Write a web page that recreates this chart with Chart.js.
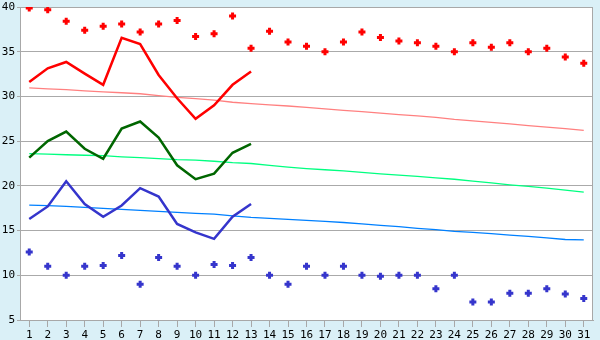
<!DOCTYPE html>
<html>
<head>
<meta charset="utf-8">
<script src="https://cdn.jsdelivr.net/npm/chart.js@4"></script>
<style>
  html, body { margin: 0; padding: 0; background: #DAF0F7; }
  canvas { display: block; }
</style>
</head>
<body>
<canvas id="chart" width="600" height="340"></canvas>
<script>
// dias del mes
const days = ['1','2','3','4','5','6','7','8','9','10','11','12','13','14','15','16',
              '17','18','19','20','21','22','23','24','25','26','27','28','29','30','31'];

// maximas y minimas registradas (puntos)
const recordMax = [39.9, 39.7, 38.4, 37.4, 37.85, 38.1, 37.2, 38.1, 38.5, 36.7, 37.0, 39.0, 35.4, 37.3, 36.1, 35.6,
                   35.0, 36.1, 37.2, 36.6, 36.2, 36.0, 35.6, 35.0, 36.0, 35.5, 36.0, 35.0, 35.4, 34.4, 33.7];
const recordMin = [12.6, 11.0, 10.0, 11.0, 11.1, 12.2, 9.0, 12.0, 11.0, 10.0, 11.2, 11.1, 12.0, 10.0, 9.0, 11.0,
                   10.0, 11.0, 10.0, 9.9, 10.0, 10.0, 8.5, 10.0, 7.0, 7.0, 8.0, 8.0, 8.5, 7.9, 7.4];

// valores del mes actual (solo 13 dias)
const curMax = [31.6, 33.15, 33.85, 32.55, 31.3, 36.55, 35.85, 32.4, 29.8, 27.5, 29.0, 31.3, 32.8];
const curMean = [23.15, 25.0, 26.07, 24.15, 23.03, 26.4, 27.2, 25.4, 22.3, 20.74, 21.37, 23.7, 24.7];
const curMin = [16.3, 17.7, 20.52, 17.97, 16.55, 17.8, 19.74, 18.8, 15.74, 14.8, 14.07, 16.55, 17.97];

// normales
const normMax = [30.96, 30.85, 30.75, 30.63, 30.52, 30.41, 30.3, 30.1, 29.9, 29.75, 29.58, 29.35, 29.2, 29.05, 28.93, 28.78,
                 28.6, 28.45, 28.3, 28.13, 27.96, 27.82, 27.65, 27.43, 27.27, 27.1, 26.94, 26.74, 26.57, 26.41, 26.2];
const normMean = [23.6, 23.55, 23.48, 23.42, 23.37, 23.25, 23.15, 23.05, 22.93, 22.87, 22.75, 22.6, 22.5, 22.3, 22.1, 21.93,
                  21.8, 21.67, 21.5, 21.35, 21.19, 21.05, 20.9, 20.74, 20.52, 20.33, 20.12, 19.95, 19.75, 19.52, 19.3];
const normMin = [17.85, 17.78, 17.7, 17.6, 17.48, 17.37, 17.26, 17.15, 17.03, 16.93, 16.83, 16.65, 16.47, 16.37, 16.26, 16.15,
                 16.03, 15.9, 15.75, 15.58, 15.43, 15.25, 15.1, 14.92, 14.8, 14.65, 14.5, 14.35, 14.18, 14.0, 13.96];

// fondo celeste afuera, blanco dentro y borde gris
const fondoPlugin = {
    id: 'fondo',
    beforeDraw(chart) {
        const { ctx, chartArea: a } = chart;
        ctx.save();
        ctx.fillStyle = '#DAF0F7';
        ctx.fillRect(0, 0, chart.width, chart.height);
        ctx.fillStyle = '#FFFFFF';
        ctx.fillRect(a.left, a.top, a.right - a.left, a.bottom - a.top);
        ctx.restore();
    },
    beforeDatasetsDraw(chart) {
        const { ctx, chartArea: a } = chart;
        ctx.save();
        ctx.strokeStyle = '#A8A8A8';
        ctx.lineWidth = 1;
        ctx.strokeRect(a.left + 0.5, a.top + 0.5, a.right - a.left - 1, a.bottom - a.top);
        ctx.restore();
    }
};

function puntos(data, color, order) {
    return {
        data: data, showLine: false, order: order,
        pointStyle: 'cross', pointRadius: 3.5, pointBorderWidth: 3,
        pointBorderColor: color, pointBackgroundColor: color
    };
}
function linea(data, color, width, order) {
    return {
        data: data, borderColor: color, borderWidth: width, order: order,
        pointRadius: 0, tension: 0, fill: false, spanGaps: false
    };
}

Chart.defaults.font.family = '"DejaVu Sans Mono", "Liberation Mono", monospace';
Chart.defaults.font.size = 11;
Chart.defaults.color = '#000000';

new Chart(document.getElementById('chart'), {
    type: 'line',
    data: {
        labels: days,
        datasets: [
            puntos(recordMax, '#FF0000', 1),
            puntos(recordMin, '#3535CC', 1),
            linea(curMax, '#FF0000', 2.5, 2),
            linea(curMean, '#006600', 2.5, 2),
            linea(curMin, '#3535CC', 2.5, 2),
            linea(normMax, '#FF8080', 1.3, 3),
            linea(normMean, '#00FF80', 1.3, 3),
            linea(normMin, '#0080FF', 1.3, 3)
        ]
    },
    options: {
        responsive: false,
        animation: false,
        devicePixelRatio: 1,
        layout: { padding: { top: 5, right: 5, left: 0, bottom: 0 } },
        plugins: { legend: { display: false }, tooltip: { enabled: false } },
        scales: {
            x: {
                offset: true,
                grid: { offset: false, drawOnChartArea: false, drawTicks: true, tickLength: 7, color: '#A8A8A8' },
                border: { display: true, color: '#A8A8A8' },
                ticks: { padding: 2, maxRotation: 0, autoSkip: false },
                afterFit(s) { s.height = 20; s.paddingLeft = 0; s.paddingRight = 0; }
            },
            y: {
                min: 5, max: 40,
                grid: { color: '#AAAAAA', tickLength: 3 },
                border: { display: true, color: '#A8A8A8' },
                ticks: { stepSize: 5, padding: 2 },
                afterFit(s) { s.width = 20; s.paddingTop = 0; s.paddingBottom = 0; }
            }
        }
    },
    plugins: [fondoPlugin]
});
</script>
</body>
</html>
